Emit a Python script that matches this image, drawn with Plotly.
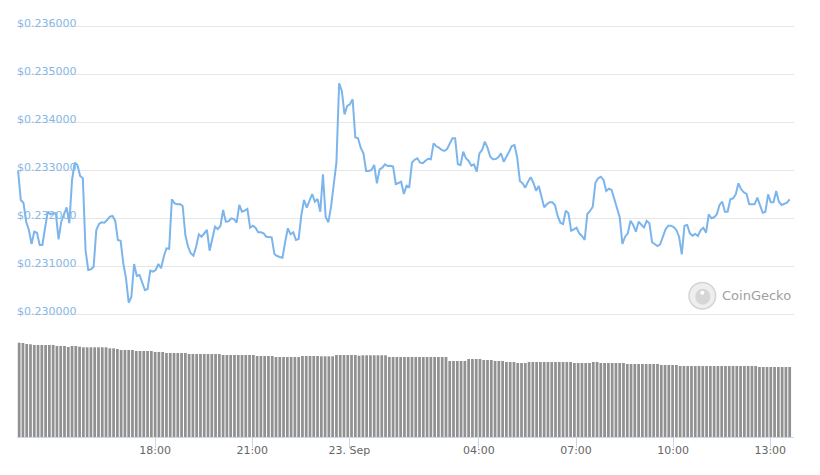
import pandas as pd
import plotly.graph_objects as go

# ---------------- data ----------------
price_start = "2020-09-22 13:46"
price_step = "5min"
prices = [
    0.232985, 0.232375, 0.232313, 0.231923, 0.231750, 0.231458, 0.231715, 0.231694, 0.231438, 0.231438,
    0.231792, 0.232131, 0.232077, 0.232098, 0.232098, 0.231556, 0.231923, 0.232063, 0.232223, 0.231890,
    0.232792, 0.233152, 0.233104, 0.232875, 0.232827, 0.231333, 0.230917, 0.230931, 0.230985, 0.231750,
    0.231875, 0.231910, 0.231902, 0.231958, 0.232027, 0.232042, 0.231944, 0.231542, 0.231527, 0.231056,
    0.230744, 0.230235, 0.230360, 0.231042, 0.230792, 0.230813, 0.230673, 0.230500, 0.230515, 0.230902,
    0.230881, 0.230917, 0.231042, 0.230952, 0.231194, 0.231369, 0.231360, 0.232390, 0.232306, 0.232285,
    0.232292, 0.232250, 0.231646, 0.231402, 0.231265, 0.231215, 0.231402, 0.231660, 0.231610, 0.231694,
    0.231750, 0.231319, 0.231542, 0.231819, 0.231771, 0.231833, 0.232167, 0.231923, 0.231931, 0.231994,
    0.231979, 0.231902, 0.232271, 0.232131, 0.232152, 0.232188, 0.231798, 0.231840, 0.231798, 0.231702,
    0.231702, 0.231681, 0.231610, 0.231598, 0.231598, 0.231250, 0.231208, 0.231188, 0.231173, 0.231506,
    0.231785, 0.231660, 0.231702, 0.231542, 0.231563, 0.232063, 0.232375, 0.232215, 0.232360, 0.232500,
    0.232340, 0.232396, 0.232131, 0.232910, 0.232027, 0.231910, 0.232235, 0.232688, 0.233160, 0.234806,
    0.234646, 0.234160, 0.234333, 0.234369, 0.234473, 0.233681, 0.233660, 0.233465, 0.233348, 0.232979,
    0.232979, 0.233000, 0.233104, 0.232723, 0.233015, 0.233048, 0.233119, 0.233083, 0.233090, 0.233073,
    0.232708, 0.232729, 0.232756, 0.232500, 0.232673, 0.232646, 0.233152, 0.233215, 0.233244, 0.233152,
    0.233140, 0.233194, 0.233235, 0.233223, 0.233556, 0.233494, 0.233465, 0.233417, 0.233396, 0.233438,
    0.233542, 0.233660, 0.233660, 0.233119, 0.233104, 0.233381, 0.233244, 0.233188, 0.233090, 0.233119,
    0.232965, 0.233348, 0.233417, 0.233590, 0.233465, 0.233277, 0.233223, 0.233229, 0.233265, 0.233348,
    0.233173, 0.233271, 0.233381, 0.233500, 0.233521, 0.233260, 0.232771, 0.232723, 0.232631, 0.232756,
    0.232848, 0.232735, 0.232569, 0.232667, 0.232444, 0.232223, 0.232285, 0.232327, 0.232327, 0.232271,
    0.232042, 0.231902, 0.231875, 0.232152, 0.232098, 0.231735, 0.231765, 0.231798, 0.231681, 0.231625,
    0.231542, 0.232083, 0.232146, 0.232235, 0.232735, 0.232827, 0.232860, 0.232792, 0.232563, 0.232610,
    0.232583, 0.232410, 0.232223, 0.232015, 0.231458, 0.231610, 0.231681, 0.231944, 0.231854, 0.231715,
    0.231923, 0.231865, 0.231802, 0.231938, 0.231890, 0.231494, 0.231458, 0.231417, 0.231452, 0.231610,
    0.231765, 0.231840, 0.231840, 0.231813, 0.231750, 0.231610, 0.231244, 0.231840, 0.231854, 0.231681,
    0.231631, 0.231667, 0.231625, 0.231750, 0.231798, 0.231694, 0.232077, 0.231994, 0.232015, 0.232077,
    0.232271, 0.232340, 0.232131, 0.232131, 0.232390, 0.232410, 0.232494, 0.232723, 0.232598, 0.232535,
    0.232500, 0.232285, 0.232285, 0.232285, 0.232423, 0.232285, 0.232110, 0.232131, 0.232494, 0.232327,
    0.232327, 0.232563, 0.232340, 0.232271, 0.232292, 0.232319, 0.232390,
]

volume_start = "2020-09-22 13:48"
volume_step = "7min"
volumes = [
    94.3, 94.0, 93.0, 92.7, 92.0, 92.0, 92.0, 92.0, 92.0, 92.0,
    91.0, 91.0, 91.0, 90.0, 91.0, 91.0, 90.3, 89.7, 89.7, 89.7,
    89.7, 89.7, 89.7, 89.7, 88.7, 88.7, 88.0, 87.0, 87.0, 87.0,
    87.0, 86.0, 86.0, 86.0, 86.0, 86.0, 85.0, 85.0, 85.0, 84.0,
    84.0, 84.0, 84.0, 84.0, 84.0, 83.0, 83.0, 83.0, 83.0, 83.0,
    83.0, 83.0, 83.0, 83.0, 82.0, 82.0, 82.0, 82.0, 82.0, 82.0,
    82.0, 82.0, 82.0, 81.0, 81.0, 81.0, 81.0, 81.0, 80.0, 80.0,
    80.0, 80.0, 80.0, 80.0, 80.0, 81.0, 81.0, 81.0, 81.0, 81.0,
    80.7, 80.7, 80.7, 80.7, 82.0, 82.0, 82.0, 82.0, 82.0, 82.0,
    81.3, 81.7, 81.7, 81.7, 81.7, 81.7, 81.7, 81.7, 80.0, 80.0,
    80.0, 80.0, 80.0, 80.0, 80.0, 80.0, 80.0, 80.0, 80.0, 80.0,
    80.0, 80.0, 80.0, 80.0, 76.0, 76.0, 76.0, 76.0, 76.0, 78.0,
    78.0, 78.0, 78.0, 77.0, 77.0, 77.0, 76.0, 76.0, 76.0, 75.0,
    75.0, 75.0, 74.0, 74.0, 74.0, 75.0, 75.0, 75.0, 75.0, 75.0,
    75.0, 75.0, 75.0, 75.0, 75.0, 75.0, 75.0, 74.0, 74.0, 74.0,
    74.0, 74.0, 75.0, 75.0, 74.0, 74.0, 74.0, 74.0, 74.0, 74.0,
    74.0, 73.0, 73.0, 73.0, 73.0, 73.0, 73.0, 73.0, 73.0, 73.0,
    72.0, 72.0, 72.0, 72.0, 72.0, 71.0, 71.0, 71.0, 71.0, 71.0,
    71.0, 71.0, 71.0, 71.0, 71.0, 71.0, 71.0, 71.0, 71.0, 71.0,
    71.0, 71.0, 71.0, 71.0, 71.0, 71.0, 70.0, 70.0, 70.0, 70.0,
    70.0, 70.0, 70.0, 70.0, 70.0,
]

x_range = ["2020-09-22 13:44", "2020-09-23 13:44"]
tick_vals = ["2020-09-22 18:00", "2020-09-22 21:00", "2020-09-23 00:00",
             "2020-09-23 04:00", "2020-09-23 07:00", "2020-09-23 10:00",
             "2020-09-23 13:00"]
tick_text = ["18:00", "21:00", "23. Sep", "04:00", "07:00", "10:00", "13:00"]
price_ticks_min, price_ticks_max, price_dtick = 0.230, 0.236, 0.001
volume_range = [0, 100]

price_times = pd.date_range(price_start, periods=len(prices), freq=price_step)
volume_times = pd.date_range(volume_start, periods=len(volumes), freq=volume_step)

# ---------------- figure ----------------
FONT = "DejaVu Sans"
OFF = 8  # default body margin of the page
W, H = 820, 475

# target page-pixel geometry
plot_left, plot_right = 17, 794
plot_top, plot_bottom = 14, 437
grid_top_px, grid_bot_px = 26, 314
price_bottom_px = 326
vol_top_px = 337

ml = plot_left - OFF
mr = W - (plot_right - OFF)
mt = plot_top - OFF
mb = H - (plot_bottom - OFF)
plot_h = plot_bottom - plot_top
plot_w = plot_right - plot_left

px_per_unit = (grid_bot_px - grid_top_px) / (price_ticks_max - price_ticks_min)
price_range = [price_ticks_min - (price_bottom_px - grid_bot_px) / px_per_unit,
               price_ticks_max + (grid_top_px - plot_top) / px_per_unit]
price_domain = [(plot_bottom - price_bottom_px) / plot_h, 1.0]
vol_domain = [0, (plot_bottom - vol_top_px) / plot_h]

fig = go.Figure()
fig.add_trace(go.Bar(
    x=volume_times, y=volumes, xaxis="x", yaxis="y2",
    marker=dict(color="#919191", line=dict(width=0)),
    hoverinfo="skip", showlegend=False,
))
fig.add_trace(go.Scatter(
    x=price_times, y=prices, xaxis="x2", yaxis="y",
    mode="lines", line=dict(color="#7cb5ec", width=2),
    showlegend=False,
))

fig.update_layout(
    width=W, height=H,
    margin=dict(l=ml, r=mr, t=mt, b=mb, pad=0),
    paper_bgcolor="white", plot_bgcolor="white",
    font=dict(family=FONT, size=11, color="#666666"),
    bargap=0.27,
    showlegend=False,
    xaxis=dict(
        type="date", range=x_range, anchor="y2",
        tickmode="array", tickvals=tick_vals, ticktext=tick_text,
        ticks="outside", ticklen=10, tickcolor="#ccd6eb", tickwidth=1,
        ticklabelstandoff=-7,
        showline=True, linecolor="#ccd6eb", linewidth=1,
        showgrid=False, zeroline=False, automargin=False,
        tickfont=dict(family=FONT, size=11, color="#666666"),
    ),
    xaxis2=dict(
        type="date", range=x_range, anchor="y", matches="x",
        showticklabels=False, showgrid=False, zeroline=False, showline=False,
        ticks="",
    ),
    yaxis=dict(
        domain=price_domain, range=price_range,
        tickmode="linear", tick0=price_ticks_min, dtick=price_dtick,
        tickprefix="$", showtickprefix="all", tickformat=".6f",
        ticklabelposition="inside top", ticklabelshift=5, ticklabelstandoff=-3,
        showgrid=True, gridcolor="#e6e6e6", gridwidth=1,
        zeroline=False, showline=False, ticks="", automargin=False,
        tickfont=dict(family=FONT, size=11, color="#86b6e6"),
    ),
    yaxis2=dict(
        domain=vol_domain, range=volume_range,
        visible=False, showgrid=False, zeroline=False,
    ),
)

# CoinGecko watermark
def px_x(px):
    return (px - plot_left) / plot_w

def px_y(py):
    return (plot_bottom - py) / plot_h

cx, cy, r = 702.3, 295.7, 13.3
fig.add_shape(type="circle", xref="paper", yref="paper",
              x0=px_x(cx - r), x1=px_x(cx + r), y0=px_y(cy + r), y1=px_y(cy - r),
              fillcolor="#eeeeee", line=dict(color="#d4d4d4", width=1.5), layer="above")
fig.add_shape(type="circle", xref="paper", yref="paper",
              x0=px_x(cx - 7), x1=px_x(cx + 8), y0=px_y(cy + 9), y1=px_y(cy - 7),
              fillcolor="#d6d6d6", line=dict(width=0), layer="above")
fig.add_shape(type="circle", xref="paper", yref="paper",
              x0=px_x(cx - 2), x1=px_x(cx + 2), y0=px_y(cy - 1), y1=px_y(cy - 5),
              fillcolor="#ffffff", line=dict(width=0), layer="above")
fig.add_annotation(text="CoinGecko", xref="paper", yref="paper",
                   x=px_x(720), y=px_y(295), xanchor="left", yanchor="middle",
                   showarrow=False, font=dict(family=FONT, size=13, color="#a0a0a0"))

fig.write_html("out.html")
